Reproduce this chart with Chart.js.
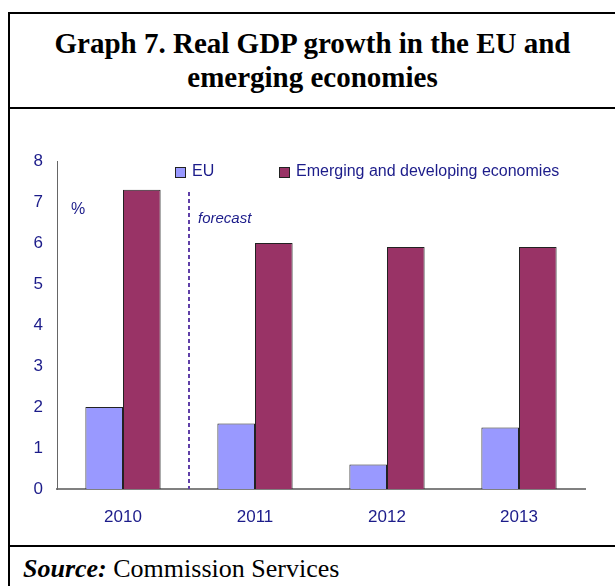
<!DOCTYPE html>
<html>
<head>
<meta charset="utf-8">
<script src="https://cdn.jsdelivr.net/npm/chart.js@4/dist/chart.umd.min.js"></script>
<style>
  body { margin: 0; background: #fff; width: 615px; height: 586px; overflow: hidden; position: relative; }
  .frame { position: absolute; left: 8px; top: 12px; width: 640px; height: 600px; border: 2px solid #000; box-sizing: border-box; }
  .title { position: absolute; left: 10px; top: 14px; width: 605px; height: 95px; border-bottom: 2px solid #000;
    font-family: "Liberation Serif", "Times New Roman", serif; font-weight: bold; font-size: 29px; line-height: 34px;
    text-align: center; padding-top: 12px; box-sizing: border-box; }
  .source { position: absolute; left: 10px; top: 545px; width: 605px; border-top: 2px solid #000;
    font-family: "Liberation Serif", "Times New Roman", serif; font-size: 26px; line-height: 30px; padding: 7px 0 0 13px; }
  .chartBox { position: absolute; left: 10px; top: 110px; width: 605px; height: 435px; }
</style>
</head>
<body>
<div class="frame"></div>
<div class="title">Graph 7. Real GDP growth in the EU and<br>emerging economies</div>
<div class="chartBox"><canvas id="chart"></canvas></div>
<div class="source"><b><i>Source:</i></b> Commission Services</div>
<script>
const years = ['2010', '2011', '2012', '2013'];
const euGrowth = [2.0, 1.6, 0.6, 1.5];
const emergingGrowth = [7.3, 6.0, 5.9, 5.9];
const seriesNames = ['EU', 'Emerging and developing economies'];

const textColor = '#1c1c8a';
const fontFamily = '"Liberation Sans", Arial, sans-serif';
const tickFamily = '"Liberation Sans Narrow", "Arial Narrow", "Liberation Sans", sans-serif';

// legend, "%" label and the forecast line are drawn over the plot
const overlay = {
  id: 'overlay',
  afterDraw(chart) {
    const ctx = chart.ctx;
    const x = chart.scales.x;
    const y = chart.scales.y;
    ctx.save();
    ctx.textBaseline = 'middle';
    ctx.font = '16px ' + fontFamily;

    // legend
    const legendX = [165, 269];
    chart.data.datasets.forEach((ds, i) => {
      ctx.fillStyle = ds.backgroundColor;
      ctx.strokeStyle = '#222';
      ctx.lineWidth = 1;
      ctx.fillRect(legendX[i] + 0.5, 57.5, 10, 10);
      ctx.strokeRect(legendX[i] + 0.5, 57.5, 10, 10);
      ctx.fillStyle = textColor;
      ctx.fillText(ds.label, legendX[i] + 17, 62);
    });

    // unit
    ctx.fillText('%', x.left + 14, 100);

    // forecast separator on the boundary between 2010 and 2011
    const sep = Math.round((x.getPixelForValue(0) + x.getPixelForValue(1)) / 2);
    ctx.strokeStyle = '#6040a8';
    ctx.lineWidth = 2;
    ctx.setLineDash([4, 3]);
    ctx.beginPath();
    ctx.moveTo(sep, 82);
    ctx.lineTo(sep, y.bottom);
    ctx.stroke();
    ctx.setLineDash([]);
    ctx.textBaseline = 'alphabetic';
    ctx.font = 'italic 15px ' + fontFamily;
    ctx.fillText('forecast', sep + 9, 113);
    ctx.restore();
  }
};

new Chart(document.getElementById('chart'), {
  type: 'bar',
  data: {
    labels: years,
    datasets: [
      { label: seriesNames[0], data: euGrowth, backgroundColor: '#9999ff', borderColor: '#222', borderWidth: 1 },
      { label: seriesNames[1], data: emergingGrowth, backgroundColor: '#993366', borderColor: '#222', borderWidth: 1 }
    ]
  },
  options: {
    responsive: true,
    maintainAspectRatio: false,
    animation: false,
    layout: { padding: { top: 51, right: 30, left: 0, bottom: 0 } },
    plugins: { legend: { display: false }, tooltip: { enabled: false } },
    datasets: { bar: { categoryPercentage: 0.57, barPercentage: 1.0 } },
    scales: {
      x: {
        grid: { display: false, drawTicks: false },
        border: { color: '#808080', width: 2 },
        ticks: { color: textColor, padding: 18, font: { size: 17, family: tickFamily } },
        afterFit(scale) { scale.height = 56; }
      },
      y: {
        min: 0, max: 8,
        grid: { display: false, drawTicks: false },
        border: { color: '#666', width: 1 },
        ticks: { stepSize: 1, color: textColor, padding: 14, font: { size: 17, family: tickFamily } },
        afterFit(scale) { scale.width = 47; }
      }
    }
  },
  plugins: [overlay]
});
</script>
</body>
</html>
